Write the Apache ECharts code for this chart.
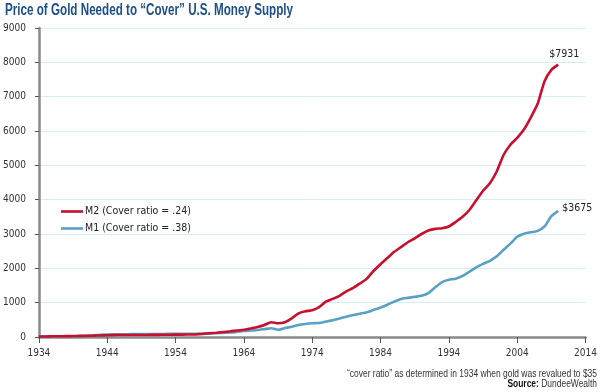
<!DOCTYPE html>
<html><head><meta charset="utf-8">
<script src="https://cdn.jsdelivr.net/npm/echarts@6/dist/echarts.min.js"></script>
<style>html,body{margin:0;padding:0;background:#fff}#c{width:600px;height:392px}</style>
</head><body><div id="c"></div>
<script>
const titleText = 'Price of Gold Needed to \u201cCover\u201d U.S. Money Supply';
const years = [];
for (let y = 1934; y <= 2010; y++) years.push(y);
const m2Name = 'M2 (Cover ratio = .24)';
const m1Name = 'M1 (Cover ratio = .38)';
const m2Values = [10,15,20,22,25,28,32,36,40,45,50,55,57,58,58,58,60,62,64,66,68,70,72,75,
  90,110,125,145,165,190,210,250,290,350,430,400,430,540,690,750,780,870,1030,1110,1200,1330,1430,1560,1700,1930,
  2120,2300,2480,2620,2760,2870,3000,3100,3150,3170,3220,3350,3500,3700,3980,4260,4480,4820,5300,5600,5800,6050,6400,6800,7450,7780,7931];
const m1Values = [10,12,15,17,20,22,25,35,50,65,75,80,82,82,83,83,85,87,88,90,92,93,95,95,
  98,105,110,120,130,150,175,190,205,230,255,210,260,300,350,380,400,410,450,490,540,590,640,680,720,790,
  860,940,1030,1110,1140,1170,1200,1280,1450,1600,1670,1700,1780,1900,2030,2130,2220,2350,2540,2720,2920,3010,3050,3090,3220,3520,3675];
const xMin = 1934, xMax = 2014, xStep = 10;
const yMin = 0, yMax = 9000, yStep = 1000;
const noteText = '\u201ccover ratio\u201d as determined in 1934 when gold was revalued to $35';
const sourceLabel = 'Source:';
const sourceText = ' DundeeWealth';

const FONT = "'DejaVu Sans Condensed','Liberation Sans',sans-serif";
const RED = '#c8102e', BLUE = '#5a9fc4';
const ctx = document.createElement('canvas').getContext('2d');
function measure(font, text) { ctx.font = font; return ctx.measureText(text).width; }

const titleFont = "bold 16px 'Liberation Sans', sans-serif";
const titleScale = 288 / measure(titleFont, titleText);
const noteFont = "11px 'Liberation Sans', sans-serif";
const noteScale = 250 / measure(noteFont, noteText);
const srcBoldFont = "bold 11px 'Liberation Sans', sans-serif";
const srcW = (measure(srcBoldFont, sourceLabel) + measure(noteFont, sourceText)) * noteScale;
const srcBoldW = measure(srcBoldFont, sourceLabel) * noteScale;
const rightEdge = 597;

const chart = echarts.init(document.getElementById('c'), null, {renderer: 'canvas'});
const pairs = vals => years.map((y, i) => [y, vals[i]]);
chart.setOption({
  animation: false,
  grid: {left: 38, right: 9, top: 28, bottom: 55},
  legend: {left: 56, top: 201, orient: 'vertical', itemGap: 6, itemWidth: 22, itemHeight: 12,
    icon: 'path://M0,4.7 L22,4.7 L22,7.3 L0,7.3 Z',
    textStyle: {fontFamily: FONT, fontSize: 10.5, color: '#222', padding: [0,0,0,-3]},
    data: [m2Name, m1Name]},
  xAxis: {type: 'value', min: xMin, max: xMax, interval: xStep,
    axisLine: {lineStyle: {color: '#8a8a8a', width: 2.5}},
    axisTick: {show: true, length: 6, lineStyle: {color: '#555', width: 1}},
    axisLabel: {fontFamily: FONT, fontSize: 10, color: '#333', margin: 11, formatter: v => String(v)},
    splitLine: {show: false}},
  yAxis: {type: 'value', min: yMin, max: yMax, interval: yStep,
    axisLine: {show: true, lineStyle: {color: '#8a8a8a', width: 2.5}},
    axisTick: {show: true, length: 4, lineStyle: {color: '#555', width: 1}},
    axisLabel: {fontFamily: FONT, fontSize: 10, color: '#333', margin: 13, formatter: v => String(v)},
    splitLine: {lineStyle: {color: '#d5edf4', width: 1}}},
  series: [
    {name: m1Name, type: 'line', data: pairs(m1Values), showSymbol: false, smooth: 0.2,
     lineStyle: {color: BLUE, width: 2.6}, itemStyle: {color: BLUE},
     endLabel: {show: true, formatter: '$' + m1Values[m1Values.length-1], fontFamily: FONT, fontSize: 10.5, color: '#222', distance: 4, offset: [0, -3]}},
    {name: m2Name, type: 'line', data: pairs(m2Values), showSymbol: false, smooth: 0.2,
     lineStyle: {color: RED, width: 2.6}, itemStyle: {color: RED},
     endLabel: {show: true, formatter: '$' + m2Values[m2Values.length-1], fontFamily: FONT, fontSize: 10.5, color: '#222', offset: [-17, -10]}}
  ],
  graphic: [
    {type: 'text', x: 5, y: 3, scaleX: titleScale,
     style: {text: titleText, font: titleFont, fill: '#1d4f8a'}},
    {type: 'text', x: rightEdge - 250, y: 368, scaleX: noteScale,
     style: {text: noteText, font: noteFont, fill: '#333'}},
    {type: 'text', x: rightEdge - srcW, y: 378, scaleX: noteScale,
     style: {text: sourceLabel, font: srcBoldFont, fill: '#111'}},
    {type: 'text', x: rightEdge - srcW + srcBoldW, y: 378, scaleX: noteScale,
     style: {text: sourceText, font: noteFont, fill: '#333'}}
  ]
});
</script></body></html>
